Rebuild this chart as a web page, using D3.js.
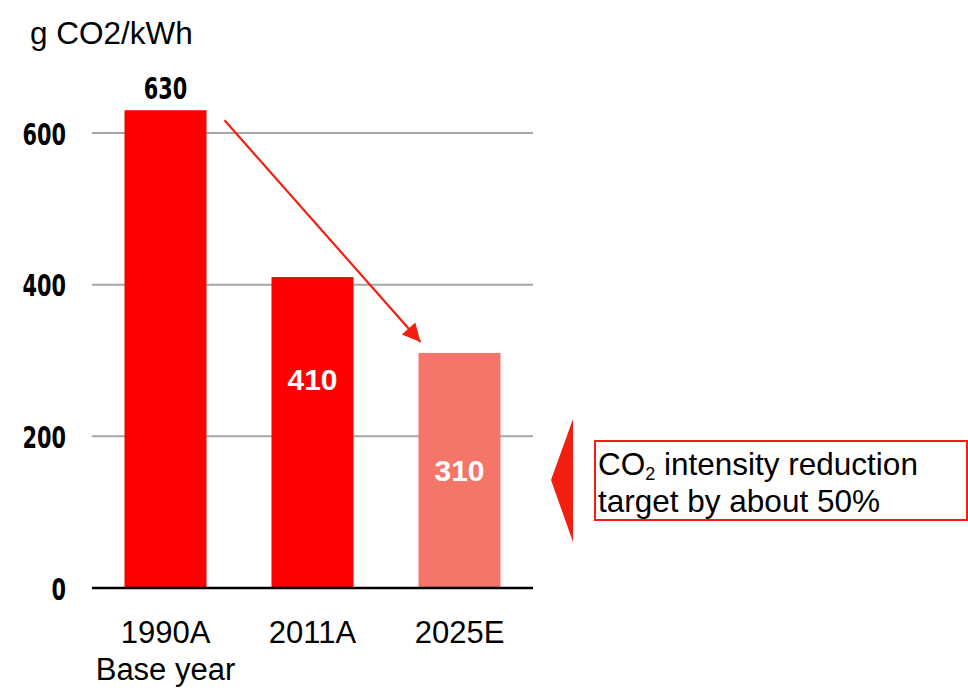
<!DOCTYPE html>
<html>
<head>
<meta charset="utf-8">
<script src="https://cdn.jsdelivr.net/npm/d3@7"></script>
<style>
  html, body { margin: 0; padding: 0; background: #fff; }
  svg { display: block; }
</style>
</head>
<body>
<svg id="chart" width="968" height="692"></svg>
<script>
// Carbon intensity of generation, g CO2 per kWh
const categories = ["1990A", "2011A", "2025E"];
const subLabels = ["Base year", "", ""];
const values = [630, 410, 310];
const yTicks = [0, 200, 400, 600];
const unitLabel = "g CO2/kWh";
const noteLines = [["CO", "2", " intensity reduction"], ["target by about 50%"]];

const barColors = ["#ff0000", "#ff0000", "#f4766b"];
const accent = "#f21e0f";
const numFont = "'DejaVu Sans', sans-serif";
const textFont = "'Liberation Sans', Arial, sans-serif";
// narrow numerals: each digit squeezed to this width
const digitWidth = 14.5;

const svg = d3.select("#chart");

const x = d3.scaleBand()
  .domain(categories)
  .range([92, 533])
  .paddingInner(0.442)
  .paddingOuter(0.221);

const y = d3.scaleLinear()
  .domain([0, 600])
  .range([588, 133]);

// horizontal gridlines
svg.append("g")
  .selectAll("line")
  .data(yTicks.filter(d => d > 0))
  .join("line")
  .attr("x1", 92).attr("x2", 533)
  .attr("y1", d => y(d)).attr("y2", d => y(d))
  .attr("stroke", "#a6a6a6")
  .attr("stroke-width", 2);

// y-axis tick labels
const yAxis = d3.axisLeft(y).tickValues(yTicks).tickSize(0).tickPadding(0).tickFormat(d3.format("d"));
const yg = svg.append("g").attr("transform", "translate(66,0)").call(yAxis);
yg.select(".domain").remove();
yg.selectAll("text")
  .attr("font-family", numFont)
  .attr("font-weight", "bold")
  .attr("font-size", 31)
  .attr("fill", "#000")
  .attr("dy", "0.36em")
  .attr("textLength", d => String(d).length * digitWidth)
  .attr("lengthAdjust", "spacingAndGlyphs");

// bars
svg.append("g")
  .selectAll("rect")
  .data(values)
  .join("rect")
  .attr("x", (d, i) => x(categories[i]))
  .attr("width", x.bandwidth())
  .attr("y", d => y(d))
  .attr("height", d => y(0) - y(d))
  .attr("fill", (d, i) => barColors[i]);

// baseline
svg.append("line")
  .attr("x1", 92).attr("x2", 533)
  .attr("y1", y(0)).attr("y2", y(0))
  .attr("stroke", "#000")
  .attr("stroke-width", 2.5);

// value labels: first above its bar, the others inside in white
svg.append("text")
  .attr("x", x(categories[0]) + x.bandwidth() / 2)
  .attr("y", y(values[0]) - 11)
  .attr("text-anchor", "middle")
  .attr("font-family", numFont)
  .attr("font-weight", "bold")
  .attr("font-size", 30)
  .attr("textLength", String(values[0]).length * digitWidth)
  .attr("lengthAdjust", "spacingAndGlyphs")
  .text(values[0]);

// fraction of bar height (from the base) at which each inner label sits
const innerLabelAt = [0.67, 0.5];
svg.append("g")
  .selectAll("text")
  .data(values.slice(1))
  .join("text")
  .attr("x", (d, i) => x(categories[i + 1]) + x.bandwidth() / 2)
  .attr("y", (d, i) => y(d * innerLabelAt[i]))
  .attr("text-anchor", "middle")
  .attr("dominant-baseline", "central")
  .attr("font-family", textFont)
  .attr("font-weight", "bold")
  .attr("font-size", 30)
  .attr("fill", "#fff")
  .text(d => d);

// category labels
svg.append("g")
  .selectAll("text")
  .data(categories)
  .join("text")
  .attr("x", d => x(d) + x.bandwidth() / 2)
  .attr("y", 643)
  .attr("text-anchor", "middle")
  .attr("font-family", textFont)
  .attr("font-size", 31)
  .attr("fill", "#000")
  .text(d => d);

svg.append("g")
  .selectAll("text")
  .data(subLabels)
  .join("text")
  .attr("x", (d, i) => x(categories[i]) + x.bandwidth() / 2)
  .attr("y", 680)
  .attr("text-anchor", "middle")
  .attr("font-family", textFont)
  .attr("font-size", 31)
  .attr("fill", "#000")
  .text(d => d);

// unit label
svg.append("text")
  .attr("x", 30).attr("y", 44)
  .attr("font-family", textFont)
  .attr("font-size", 31.5)
  .attr("fill", "#000")
  .text(unitLabel);

// downward trend arrow from the base year bar toward the target bar
svg.append("defs").append("marker")
  .attr("id", "head")
  .attr("viewBox", "0 0 10 10")
  .attr("refX", 10).attr("refY", 5)
  .attr("markerUnits", "userSpaceOnUse")
  .attr("markerWidth", 24).attr("markerHeight", 18)
  .attr("orient", "auto")
  .append("path")
  .attr("d", "M0,0 L10,5 L0,10 Z")
  .attr("fill", accent);

const x0 = x(categories[0]) + x.bandwidth() + 18;
const y0 = y(values[0]) + 10;
const x1 = x(categories[2]) + 2;
const y1 = y(values[2]) - 11;
svg.append("line")
  .attr("x1", x0).attr("y1", y0)
  .attr("x2", x1).attr("y2", y1)
  .attr("stroke", accent)
  .attr("stroke-width", 2.2)
  .attr("marker-end", "url(#head)");

// pointer triangle and note box
svg.append("path")
  .attr("d", "M551,480 L573,419 L573,542 Z")
  .attr("fill", accent);

svg.append("rect")
  .attr("x", 595).attr("y", 441)
  .attr("width", 372).attr("height", 79)
  .attr("fill", "#fff")
  .attr("stroke", accent)
  .attr("stroke-width", 2);

const note = svg.append("text")
  .attr("font-family", textFont)
  .attr("font-size", 31.5)
  .attr("fill", "#000");
const l1 = note.append("tspan").attr("x", 598).attr("y", 475);
l1.append("tspan").text(noteLines[0][0]);
l1.append("tspan").attr("font-size", 18).attr("dy", 4.5).text(noteLines[0][1]);
l1.append("tspan").attr("dy", -4.5).text(noteLines[0][2]);
note.append("tspan").attr("x", 598).attr("y", 512).text(noteLines[1][0]);
</script>
</body>
</html>
